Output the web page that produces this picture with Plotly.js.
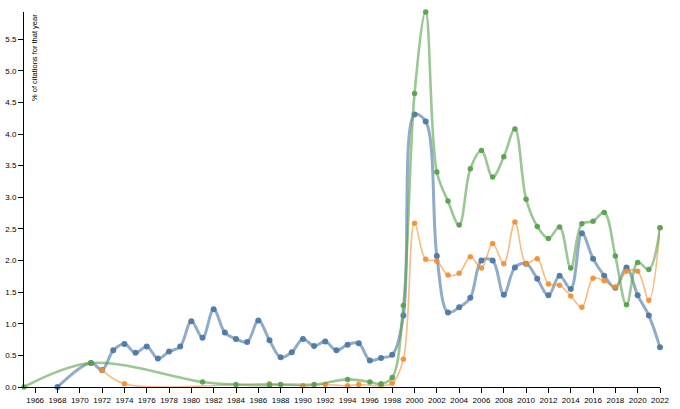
<!DOCTYPE html>
<html>
<head>
<meta charset="utf-8">
<script src="https://cdn.plot.ly/plotly-3.0.1.min.js"></script>
<style>html,body{margin:0;padding:0;background:#fff;}#chart{width:680px;height:409px;}</style>
</head>
<body>
<div id="chart"></div>
<script>
// Series A (blue)
const blueYears = [1968,1971,1972,1973,1974,1975,1976,1977,1978,1979,1980,1981,1982,1983,1984,1985,1986,1987,1988,1989,1990,1991,1992,1993,1994,1995,1996,1997,1998,1999,2000,2001,2002,2003,2004,2005,2006,2007,2008,2009,2010,2011,2012,2013,2014,2015,2016,2017,2018,2019,2020,2021,2022];
const blueValues = [0.0,0.38,0.27,0.58,0.68,0.54,0.64,0.45,0.56,0.64,1.04,0.78,1.23,0.86,0.76,0.71,1.05,0.74,0.47,0.55,0.76,0.65,0.72,0.58,0.67,0.69,0.42,0.46,0.51,1.13,4.31,4.20,2.07,1.18,1.26,1.41,2.00,2.00,1.46,1.89,1.95,1.71,1.45,1.76,1.55,2.43,2.03,1.76,1.57,1.89,1.45,1.13,0.63];

// Series B (orange)
const orangeYears = [1972,1974,1987,1990,1992,1994,1995,1997,1998,1999,2000,2001,2002,2003,2004,2005,2006,2007,2008,2009,2010,2011,2012,2013,2014,2015,2016,2017,2018,2019,2020,2021,2022];
const orangeValues = [0.27,0.05,0.05,0.02,0.04,0.02,0.04,0.02,0.06,0.44,2.59,2.02,1.99,1.77,1.80,2.06,1.88,2.27,1.95,2.61,1.95,2.03,1.63,1.61,1.44,1.26,1.72,1.68,1.58,1.83,1.83,1.37,2.52];

// Series C (green)
const greenYears = [1965,1971,1981,1984,1987,1988,1991,1994,1996,1997,1998,1999,2000,2001,2002,2003,2004,2005,2006,2007,2008,2009,2010,2011,2012,2013,2014,2015,2016,2017,2018,2019,2020,2021,2022];
const greenValues = [0.0,0.38,0.08,0.04,0.03,0.04,0.04,0.12,0.08,0.05,0.15,1.29,4.64,5.93,3.40,2.94,2.56,3.45,3.74,3.32,3.64,4.08,2.97,2.54,2.35,2.53,1.88,2.58,2.62,2.76,2.07,1.30,1.97,1.86,2.52];

const yTitle = "% of citations for that year";

function mk(x, y, lineColor, markerColor, width, msize) {
  return {
    x: x, y: y, type: 'scatter', mode: 'lines+markers',
    line: {shape: 'spline', smoothing: 1, color: lineColor, width: width},
    marker: {color: markerColor, size: msize},
    hoverinfo: 'x+y', showlegend: false, cliponaxis: false
  };
}

const data = [
  mk(blueYears, blueValues, 'rgba(78,121,167,0.62)', 'rgba(78,121,167,0.95)', 3, 6),
  mk(orangeYears, orangeValues, 'rgba(242,142,44,0.6)', 'rgba(242,142,44,0.9)', 1.6, 5.5),
  mk(greenYears, greenValues, 'rgba(89,161,79,0.6)', 'rgba(89,161,79,0.95)', 2.6, 5.5)
];

const tickFont = {family: 'Liberation Sans, Arial, sans-serif', size: 8, color: '#000'};

const layout = {
  width: 680, height: 409,
  margin: {l: 24, r: 20, t: 12, b: 22},
  paper_bgcolor: '#fff', plot_bgcolor: '#fff',
  showlegend: false,
  xaxis: {
    range: [1965, 2022], tick0: 1966, dtick: 2, tickmode: 'linear', tickangle: 0,
    showgrid: false, zeroline: false, showline: true, linecolor: '#000', linewidth: 1,
    ticks: 'outside', ticklen: 5, tickcolor: '#000', tickfont: tickFont
  },
  yaxis: {
    range: [0, 5.93], tick0: 0, dtick: 0.5, tickmode: 'linear', tickformat: '.1f',
    showgrid: false, zeroline: false, showline: true, linecolor: '#000', linewidth: 1,
    ticks: 'outside', ticklen: 5, tickcolor: '#000', tickfont: tickFont
  },
  annotations: [{
    text: yTitle, xref: 'paper', yref: 'paper', x: 0, y: 1,
    xanchor: 'left', yanchor: 'top', xshift: 4, textangle: -90, showarrow: false,
    font: {family: 'Liberation Sans, Arial, sans-serif', size: 7.5, color: '#000'}
  }]
};

Plotly.newPlot('chart', data, layout, {displayModeBar: false, staticPlot: true});
</script>
</body>
</html>
